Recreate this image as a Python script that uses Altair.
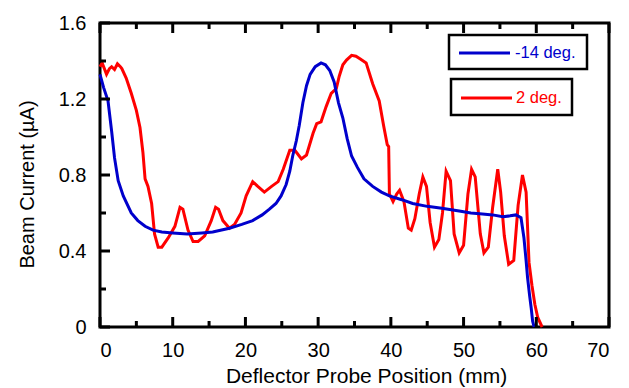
import altair as alt
import pandas as pd

# ---- data ----
blue_x = [0, 0.5, 1.1, 1.6, 2.0, 2.5, 3.2, 4.3, 5.2, 6.2, 7.3, 8.5, 10, 12, 14, 15.5,
          17.8, 19.5, 21, 22.3, 23.3, 24.2, 24.9, 25.6, 26.1, 26.5, 27.0, 27.4, 27.9,
          28.4, 28.9, 29.6, 30.4, 31.0, 31.6, 32.2, 32.8, 33.4, 34.0, 34.6, 35.4, 36.3,
          37.5, 38.7, 39.8, 41.5, 43, 45, 47, 49.4, 51, 52.6, 54, 55.4, 56.4, 57.2,
          57.9, 58.3, 58.6, 58.8, 59.1, 59.3, 59.5, 59.7]
blue_y = [1.33, 1.26, 1.19, 1.03, 0.89, 0.77, 0.69, 0.60, 0.56, 0.53, 0.51, 0.50, 0.495,
          0.49, 0.495, 0.50, 0.52, 0.54, 0.56, 0.59, 0.62, 0.65, 0.69, 0.75, 0.82, 0.90,
          0.98, 1.06, 1.18, 1.27, 1.33, 1.37, 1.39, 1.38, 1.35, 1.29, 1.18, 1.10, 0.99,
          0.90, 0.84, 0.78, 0.74, 0.71, 0.69, 0.67, 0.65, 0.635, 0.625, 0.61, 0.60,
          0.595, 0.59, 0.58, 0.585, 0.59, 0.575, 0.47, 0.35, 0.26, 0.16, 0.10, 0.03, 0.0]

red_x = [0, 0.3, 0.9, 1.3, 1.6, 2.0, 2.4, 2.8, 3.0, 3.6, 4.3, 5.0, 5.5, 5.9, 6.2, 6.6,
         7.1, 7.5, 8.0, 8.5, 9.4, 10.3, 11.0, 11.4, 12.1, 12.8, 13.5, 14.4, 15.3, 15.9,
         16.3, 16.9, 17.8, 18.5, 19.4, 20.1, 21.0, 21.7, 22.6, 23.6, 24.5, 25.2, 26.1,
         26.8, 27.7, 28.4, 29.3, 29.8, 30.4, 31.1, 31.8, 32.5, 32.9, 33.4, 33.9, 34.6,
         35.2, 35.8, 36.6, 37.5, 38.4, 39.0, 39.5, 39.7, 39.8, 40.3, 40.8, 41.2, 41.8,
         42.4, 42.8, 43.3, 43.9, 44.4, 44.9, 45.4, 46.0, 46.6, 47.1, 47.6, 48.2, 48.7,
         49.4, 50.0, 50.6, 51.1, 51.6, 52.3, 52.8, 53.4, 54.0, 54.7, 55.1, 55.6, 56.2,
         56.9, 57.5, 58.1, 58.6, 59.0, 59.4, 59.8, 60.2, 60.8]
red_y = [1.37, 1.39, 1.33, 1.36, 1.37, 1.355, 1.385, 1.37, 1.36, 1.31, 1.23, 1.14, 1.05,
         0.92, 0.78, 0.74, 0.65, 0.49, 0.42, 0.42, 0.47, 0.53, 0.63, 0.62, 0.51, 0.45,
         0.45, 0.48, 0.56, 0.63, 0.62, 0.56, 0.52, 0.54, 0.60, 0.69, 0.765, 0.74, 0.71,
         0.74, 0.765, 0.83, 0.93, 0.93, 0.885, 0.905, 1.02, 1.07, 1.08, 1.16, 1.23,
         1.255, 1.32, 1.38, 1.405, 1.43, 1.425, 1.41, 1.39, 1.28, 1.19, 1.06, 0.96, 0.95,
         0.70, 0.66, 0.70, 0.72, 0.66, 0.52, 0.51, 0.57, 0.70, 0.79, 0.74, 0.55, 0.42,
         0.46, 0.60, 0.82, 0.77, 0.49, 0.39, 0.43, 0.70, 0.83, 0.79, 0.49, 0.39, 0.42,
         0.63, 0.83, 0.71, 0.48, 0.33, 0.35, 0.64, 0.80, 0.71, 0.34, 0.22, 0.12, 0.05, 0.0]

series_names = ["-14 deg.", "2 deg."]
series_colors = ["#0000CC", "#FF0000"]

x_major = [0, 10, 20, 30, 40, 50, 60, 70]
x_minor = [5, 15, 25, 35, 45, 55, 65]
y_major = [0, 0.4, 0.8, 1.2, 1.6]
y_minor = [0.2, 0.6, 1.0, 1.4]

x_title = "Deflector Probe Position (mm)"
y_title = "Beam Current (µA)"

FONT = "Liberation Sans"
W, H = 509, 304

xs = alt.Scale(domain=[0, 70], nice=False, zero=False)
ys = alt.Scale(domain=[0, 1.6], nice=False, zero=False)

blue_df = pd.DataFrame({"x": blue_x, "y": blue_y})
red_df = pd.DataFrame({"x": red_x, "y": red_y})

x_axis = alt.Axis(values=x_major, ticks=False, domain=False, grid=False,
                  labelFontSize=20, labelPadding=13, labelFont=FONT, labelColor="black",
                  format="d", title=x_title, titleFontSize=21, titleFont=FONT,
                  titleFontWeight="normal", titleColor="black",
                  titleX=266, titleY=55, titleBaseline="alphabetic")
y_axis = alt.Axis(values=y_major, ticks=False, domain=False, grid=False,
                  labelFontSize=20, labelPadding=14, labelFont=FONT, labelColor="black",
                  labelExpr="datum.value == 0 ? '0' : format(datum.value, '.1f')",
                  title=y_title, titleFontSize=20, titleFont=FONT,
                  titleFontWeight="normal", titleColor="black",
                  titleX=-67, titleY=161, titleBaseline="alphabetic")

red_line = alt.Chart(red_df).mark_line(color=series_colors[1], strokeWidth=3).encode(
    x=alt.X("x:Q", scale=xs, axis=x_axis),
    y=alt.Y("y:Q", scale=ys, axis=y_axis),
)
blue_line = alt.Chart(blue_df).mark_line(color=series_colors[0], strokeWidth=3).encode(
    x=alt.X("x:Q", scale=xs),
    y=alt.Y("y:Q", scale=ys),
)

# inward ticks (frame ticks, positioned through the scales)
xmaj = pd.DataFrame({"tx": x_major})
xmin = pd.DataFrame({"tx": x_minor})
ymaj = pd.DataFrame({"ty": y_major})
ymin = pd.DataFrame({"ty": y_minor})

def xticks(df, length, top):
    y0 = 0 if top else H
    y1 = length if top else H - length
    return alt.Chart(df).mark_rule(color="#000000", strokeWidth=3).encode(
        x=alt.X("tx:Q", scale=xs), y=alt.value(y0), y2=alt.value(y1))

def yticks(df, length):
    return alt.Chart(df).mark_rule(color="#000000", strokeWidth=3).encode(
        y=alt.Y("ty:Q", scale=ys), x=alt.value(0), x2=alt.value(length))

ticks = [xticks(xmaj, 10, False), xticks(xmin, 6, False),
         xticks(xmaj, 10, True), xticks(xmin, 6, True),
         yticks(ymaj, 10), yticks(ymin, 6)]

# legend boxes
one = pd.DataFrame({"k": [0]})
box1 = alt.Chart(one).mark_rect(fill="white", stroke="black", strokeWidth=2.5).encode(
    x=alt.value(349), x2=alt.value(487), y=alt.value(12), y2=alt.value(46))
box2 = alt.Chart(one).mark_rect(fill="white", stroke="black", strokeWidth=2.5).encode(
    x=alt.value(351), x2=alt.value(472), y=alt.value(56), y2=alt.value(92))
leg1 = alt.Chart(one).mark_rule(color=series_colors[0], strokeWidth=3).encode(
    x=alt.value(359), x2=alt.value(410), y=alt.value(30))
leg2 = alt.Chart(one).mark_rule(color=series_colors[1], strokeWidth=3).encode(
    x=alt.value(361), x2=alt.value(412), y=alt.value(75))
txt1 = alt.Chart(one).mark_text(align="left", baseline="middle", fontSize=16.5,
                                font=FONT, color=series_colors[0]).encode(
    x=alt.value(415), y=alt.value(30), text=alt.value(series_names[0]))
txt2 = alt.Chart(one).mark_text(align="left", baseline="middle", fontSize=16.5,
                                font=FONT, color=series_colors[1]).encode(
    x=alt.value(416), y=alt.value(75), text=alt.value(series_names[1]))

chart = alt.layer(red_line, blue_line, box1, box2, leg1, leg2, txt1, txt2, *ticks).properties(
    width=W, height=H,
    autosize=alt.AutoSizeParams(type="none"),
    padding={"left": 92, "top": 15, "right": 10, "bottom": 64},
).configure_view(stroke="black", strokeWidth=3)

chart.save("out.html", embed_options={"renderer": "svg", "actions": False})
